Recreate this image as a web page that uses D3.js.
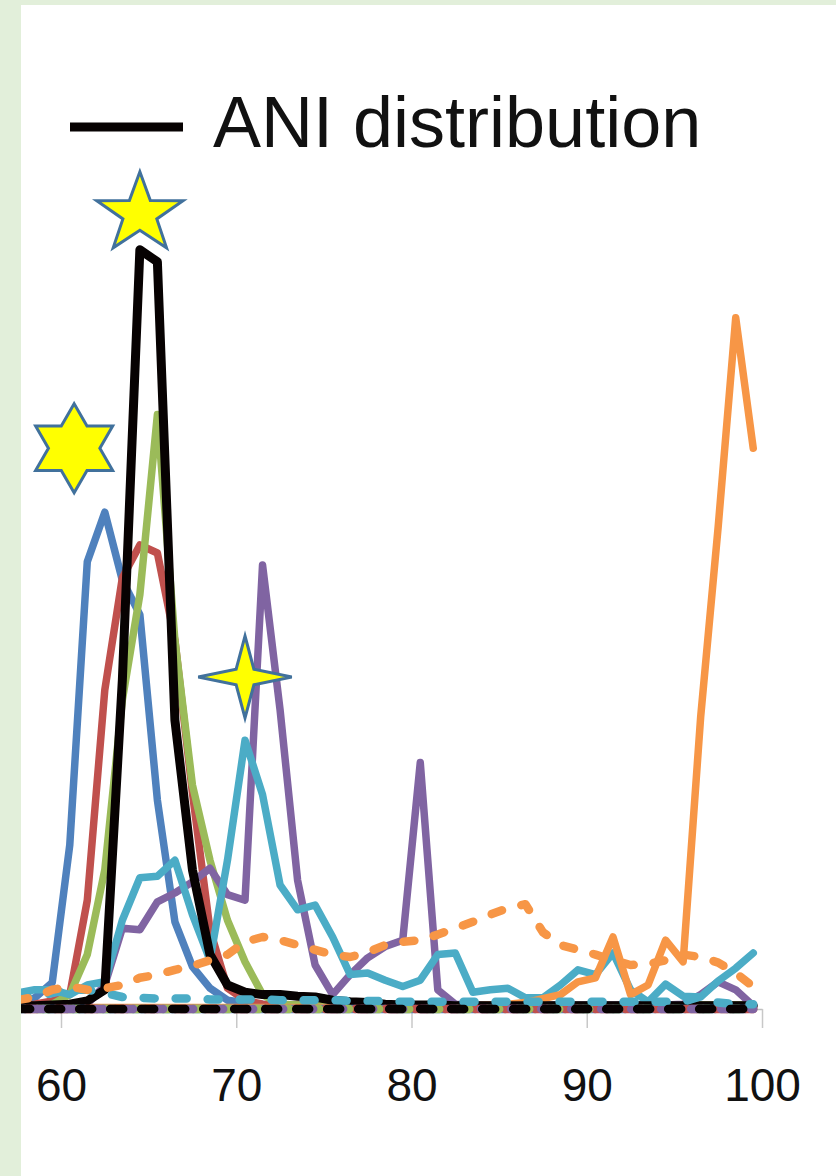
<!DOCTYPE html>
<html>
<head>
<meta charset="utf-8">
<script src="https://cdn.jsdelivr.net/npm/d3@7"></script>
<style>
  html, body { margin: 0; padding: 0; background: #e2efda; }
  svg { display: block; }
</style>
</head>
<body>
<script>
// ANI bins (bin centres, %)
const bins = [57.5,58.5,59.5,60.5,61.5,62.5,63.5,64.5,65.5,66.5,67.5,68.5,69.5,70.5,71.5,72.5,73.5,74.5,75.5,76.5,77.5,78.5,79.5,80.5,81.5,82.5,83.5,84.5,85.5,86.5,87.5,88.5,89.5,90.5,91.5,92.5,93.5,94.5,95.5,96.5,97.5,98.5,99.5];

// Frequencies per genome (relative units)
const aniDist   = [0.4,0.4,0.5,0.6,1.0,2.4,41.1,94.9,93.4,36.1,17.4,6.8,3.0,2.1,1.8,1.8,1.6,1.5,1.1,0.9,0.8,0.6,0.5,0.5,0.5,0.4,0.4,0.4,0.4,0.4,0.4,0.4,0.4,0.4,0.4,0.4,0.4,0.4,0.4,0.4,0.4,0.4,0.4];
const blueSolid = [0.8,1.4,3.3,20.5,55.9,62.1,53.6,49.3,26.1,10.9,5.3,2.6,1.1,0.8,0.6,0.5,0.5,0.5,0.5,0.5,0.5,0.5,0.5,0.5,0.5,0.5,0.5,0.5,0.5,0.5,0.5,0.5,0.5,0.5,0.5,0.5,0.5,0.5,0.5,0.5,0.5,0.5,0.5];
const redSolid  = [0.5,0.6,1.0,1.8,13.6,39.9,53.9,58.0,57.0,46.1,27.0,9.9,2.6,1.1,0.6,0.5,0.5,0.5,0.5,0.5,0.5,0.5,0.5,0.5,0.5,0.5,0.5,0.5,0.5,0.5,0.5,0.5,0.5,0.5,0.5,0.5,0.5,0.5,0.5,0.5,0.5,0.5,0.5];
const greenSolid= [0.2,0.4,0.6,1.8,6.8,17.4,38.6,51.8,74.3,46.1,28.0,18.6,11.1,5.9,1.8,0.6,0.5,0.5,0.5,0.5,0.5,0.5,0.5,0.5,0.5,0.5,0.5,0.5,0.5,0.5,0.5,0.5,0.5,0.5,0.5,0.5,0.5,0.5,0.5,0.5,0.5,0.5,0.5];
const purpleSolid=[0.2,0.2,0.4,0.5,0.6,3.0,10.1,9.9,13.4,14.5,15.9,17.6,14.3,13.6,55.5,37.4,16.1,5.5,1.8,4.3,6.4,7.8,8.6,30.8,2.4,0.6,0.5,0.5,0.5,0.5,0.5,0.5,0.5,0.5,0.5,0.5,0.5,0.5,0.6,1.8,3.4,2.4,0.4];
const cyanSolid = [2.0,2.4,2.4,1.8,3.0,3.4,11.1,16.4,16.6,18.6,11.8,6.1,18.6,33.6,26.8,15.5,12.4,13.0,9.0,4.3,4.5,3.6,2.8,3.6,6.8,7.0,2.1,2.4,2.6,1.4,1.4,3.0,4.9,4.3,7.0,2.4,0.9,3.1,1.6,1.5,3.5,5.1,7.0];
const orangeSolid=[0.2,0.2,0.2,0.2,0.2,0.2,0.2,0.2,0.2,0.2,0.2,0.2,0.2,0.2,0.2,0.2,0.2,0.2,0.2,0.2,0.2,0.2,0.2,0.2,0.3,0.3,0.4,0.5,0.6,0.8,1.3,1.8,3.4,3.9,9.0,1.8,3.0,8.6,5.9,36.5,60.3,86.4,70.1];
const orangeDash= [1.1,1.5,2.4,2.8,2.4,2.6,3.0,3.9,4.3,4.9,5.4,6.1,6.8,8.4,9.0,8.6,8.0,7.4,6.8,6.5,7.1,8.0,8.4,8.6,9.3,10.1,10.9,11.8,12.6,13.1,9.6,8.0,7.4,6.8,6.1,5.5,5.6,6.1,6.8,6.5,5.8,4.5,2.8];
const cyanDash  = [1.4,1.5,2.0,2.4,2.4,2.0,1.5,1.4,1.3,1.3,1.3,1.2,1.2,1.2,1.2,1.1,1.1,1.1,1.1,1.0,1.0,1.0,0.9,0.9,0.9,0.9,0.9,0.9,0.9,0.9,0.9,0.9,0.9,0.9,0.9,0.9,0.9,0.9,0.9,1.6,0.8,0.6,0.6];
const blueDash   = bins.map(() => 0);
const redDash    = bins.map(() => 0);
const greenDash  = bins.map(() => 0);
const purpleDash = bins.map(() => 0);
const blackDash  = bins.map(() => 0);

// Axis ticks and legend text
const xTicks = [60, 70, 80, 90, 100];
const legendLabel = "ANI distribution";

// Peak markers (data coordinates)
const markers = [
  { shape: "star5", x: 64.5, y: 99.4 },
  { shape: "star6", x: 60.75, y: 70.1 },
  { shape: "star4", x: 70.5, y: 41.5 }
];

const W = 836, H = 1176;
const svg = d3.select("body").append("svg").attr("width", W).attr("height", H);

// Page backdrop and white panel
svg.append("rect").attr("width", W).attr("height", H).attr("fill", "#e2efda");
const panel = { x: 21, y: 5 };
svg.append("rect").attr("x", panel.x).attr("y", panel.y)
  .attr("width", W - panel.x).attr("height", H - panel.y).attr("fill", "#ffffff");

svg.append("defs").append("clipPath").attr("id", "panelClip")
  .append("rect").attr("x", panel.x).attr("y", panel.y)
  .attr("width", W - panel.x).attr("height", H - panel.y);

const x = d3.scaleLinear().domain([60, 100]).range([61, 762]);
const y = d3.scaleLinear().domain([0, 100]).range([1009, 209]);

// x axis
const axisG = svg.append("g").attr("transform", `translate(0,${y(0)})`);
const xAxis = d3.axisBottom(x).tickValues(xTicks).tickSize(19).tickSizeOuter(0)
  .tickPadding(40).tickFormat(d3.format("d"));
axisG.call(xAxis);
axisG.select(".domain").attr("stroke", "#bfbfbf").attr("stroke-width", 1.5);
axisG.selectAll(".tick line").attr("stroke", "#c8c8c8").attr("stroke-width", 1.5);
axisG.selectAll(".tick text")
  .attr("font-family", "'Liberation Sans', Arial, sans-serif")
  .attr("font-size", 46).attr("fill", "#111")
  .attr("dy", "0.71em");

const plot = svg.append("g").attr("clip-path", "url(#panelClip)");
const line = d3.line().x((d, i) => x(bins[i])).y(d => y(d));

const solidSeries = [
  { values: blueSolid,   color: "#4f81bd", w: 7.5 },
  { values: redSolid,    color: "#c0504d", w: 7.5 },
  { values: greenSolid,  color: "#9bbb59", w: 7.5 },
  { values: purpleSolid, color: "#8064a2", w: 7.5 },
  { values: cyanSolid,   color: "#4bacc6", w: 7.5 },
  { values: orangeSolid, color: "#f79646", w: 7.5 },
  { values: aniDist,     color: "#070202", w: 9 }
];
const dashedSeries = [
  { values: blueDash,   color: "#4f81bd", dash: "12,18", off: 4 },
  { values: redDash,    color: "#c0504d", dash: "12,18", off: 22 },
  { values: greenDash,  color: "#9bbb59", dash: "12,18", off: 10 },
  { values: purpleDash, color: "#8064a2", dash: "12,18", off: 16 },
  { values: cyanDash,   color: "#4bacc6", dash: "11,21", off: 0 },
  { values: orangeDash, color: "#f79646", dash: "11,20", off: 0 },
  { values: blackDash,  color: "#070202", dash: "13,18", off: 0 }
];

solidSeries.forEach(s => {
  plot.append("path").datum(s.values).attr("d", line)
    .attr("fill", "none").attr("stroke", s.color).attr("stroke-width", s.w)
    .attr("stroke-linejoin", "round").attr("stroke-linecap", "round");
});
dashedSeries.forEach(s => {
  plot.append("path").datum(s.values).attr("d", line)
    .attr("fill", "none").attr("stroke", s.color).attr("stroke-width", 8.5)
    .attr("stroke-dasharray", s.dash).attr("stroke-dashoffset", s.off)
    .attr("stroke-linejoin", "round").attr("stroke-linecap", "round");
});

// Star outlines
function starPoints(n, rOuter, rInner, sx) {
  const pts = [];
  for (let k = 0; k < 2 * n; k++) {
    const r = k % 2 === 0 ? rOuter : rInner;
    const a = -Math.PI / 2 + k * Math.PI / n;
    pts.push([Math.cos(a) * r * sx, Math.sin(a) * r]);
  }
  return pts;
}
const shapes = {
  star5: starPoints(5, 42, 16.5, 1.08),
  star6: starPoints(6, 44.5, 25.7, 1.0),
  star4: starPoints(4, 41, 11, 1.14)
};
markers.forEach(m => {
  svg.append("path")
    .attr("transform", `translate(${x(m.x)},${y(m.y)})`)
    .attr("d", d3.line()(shapes[m.shape]) + "Z")
    .attr("fill", "#ffff00").attr("stroke", "#41719c").attr("stroke-width", 3)
    .attr("stroke-linejoin", "miter");
});

// Legend
const lg = svg.append("g");
lg.append("line").attr("x1", 70).attr("x2", 183).attr("y1", 127).attr("y2", 127)
  .attr("stroke", "#070202").attr("stroke-width", 9);
lg.append("text").attr("x", 213).attr("y", 147)
  .attr("font-family", "'Liberation Sans', Arial, sans-serif")
  .attr("font-size", 72).attr("fill", "#111")
  .text(legendLabel);
</script>
</body>
</html>
